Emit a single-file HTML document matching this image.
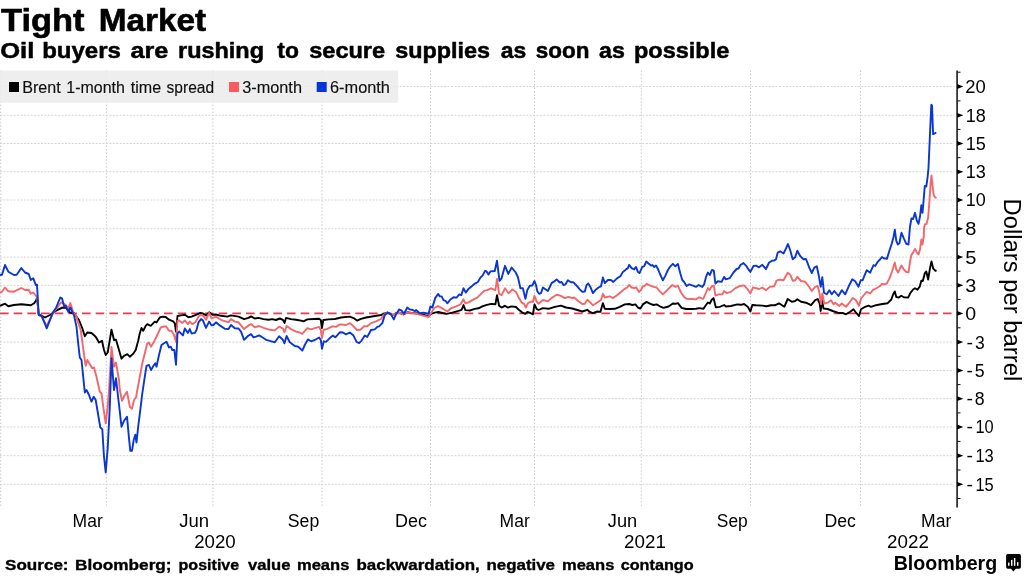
<!DOCTYPE html>
<html><head><meta charset="utf-8"><title>Tight Market</title>
<style>
html,body{margin:0;padding:0;background:#fff;}
body{width:1024px;height:576px;overflow:hidden;font-family:"Liberation Sans",sans-serif;}
svg{display:block;font-family:"Liberation Sans",sans-serif;}
</style></head><body>
<svg width="1024" height="576" viewBox="0 0 1024 576" style="will-change:transform">
<g stroke="#d4d4d4" stroke-width="1" stroke-dasharray="2 1.417" fill="none"><line x1="0.7" y1="70.5" x2="0.7" y2="506" stroke="#cacaca" stroke-dasharray="1.5 1.917"/><line x1="106.4" y1="70.5" x2="106.4" y2="506" stroke="#cacaca" stroke-dasharray="1.5 1.917"/><line x1="212.9" y1="70.5" x2="212.9" y2="506" stroke="#cacaca" stroke-dasharray="1.5 1.917"/><line x1="322" y1="70.5" x2="322" y2="506" stroke="#cacaca" stroke-dasharray="1.5 1.917"/><line x1="430.5" y1="70.5" x2="430.5" y2="506" stroke="#cacaca" stroke-dasharray="1.5 1.917"/><line x1="534.5" y1="70.5" x2="534.5" y2="506" stroke="#cacaca" stroke-dasharray="1.5 1.917"/><line x1="641.3" y1="70.5" x2="641.3" y2="506" stroke="#cacaca" stroke-dasharray="1.5 1.917"/><line x1="750.5" y1="70.5" x2="750.5" y2="506" stroke="#cacaca" stroke-dasharray="1.5 1.917"/><line x1="860.5" y1="70.5" x2="860.5" y2="506" stroke="#cacaca" stroke-dasharray="1.5 1.917"/><line x1="0" y1="86.5" x2="954" y2="86.5"/><line x1="0" y1="115.3" x2="954" y2="115.3"/><line x1="0" y1="143.5" x2="954" y2="143.5"/><line x1="0" y1="171.8" x2="954" y2="171.8"/><line x1="0" y1="200.0" x2="954" y2="200.0"/><line x1="0" y1="228.8" x2="954" y2="228.8"/><line x1="0" y1="257.1" x2="954" y2="257.1"/><line x1="0" y1="285.3" x2="954" y2="285.3"/><line x1="0" y1="342.1" x2="954" y2="342.1"/><line x1="0" y1="370.5" x2="954" y2="370.5"/><line x1="0" y1="398.7" x2="954" y2="398.7"/><line x1="0" y1="427.0" x2="954" y2="427.0"/><line x1="0" y1="455.7" x2="954" y2="455.7"/><line x1="0" y1="484.3" x2="954" y2="484.3"/></g>
<rect x="0" y="70.5" width="398.2" height="32.2" fill="#ececec" fill-opacity="0.88"/>
<rect x="9" y="82" width="10" height="10" fill="#000"/><rect x="229" y="82" width="10" height="10" fill="#fb5a5e"/><rect x="316.7" y="82" width="10" height="10" fill="#0534d8"/>
<line x1="0" y1="313.4" x2="954" y2="313.4" stroke="#e93a52" stroke-width="1.8" stroke-dasharray="8.6 5.067"/>
<path d="M0.0,305.8 L5.0,303.7 L8.3,306.3 L14.0,305.0 L21.3,304.2 L30.8,305.3 L34.2,303.3 L36.3,300.0 L37.0,297.5 L38.7,314.2 L41.7,315.8 L45.0,317.5 L50.0,315.0 L55.8,310.8 L61.7,307.8 L65.8,307.5 L70.0,312.5 L74.0,313.3 L79.0,320.0 L82.3,328.3 L84.8,336.3 L87.3,332.5 L91.5,333.0 L95.7,336.7 L99.0,342.5 L102.0,340.8 L104.0,350.0 L105.7,355.0 L107.7,352.5 L109.8,340.0 L111.5,329.7 L114.0,340.0 L116.0,339.7 L119.0,350.0 L121.5,358.7 L124.0,355.8 L127.3,354.2 L129.8,356.7 L133.2,353.7 L135.7,350.0 L138.2,340.8 L139.8,333.3 L141.5,328.0 L143.2,330.8 L145.7,325.8 L147.3,324.2 L150.7,325.8 L154.8,321.7 L156.5,322.5 L159.8,317.5 L162.3,316.7 L165.7,317.0 L169.0,319.7 L173.2,321.3 L174.8,323.3 L176.0,331.7 L177.5,316.0 L181.0,315.4 L184.8,314.8 L188.5,317.3 L191.6,316.6 L196.0,314.8 L200.4,312.9 L202.9,313.5 L206.0,315.4 L209.1,312.3 L212.3,314.8 L216.0,314.5 L221.0,315.8 L227.3,316.6 L231.0,315.4 L238.5,316.6 L244.1,319.1 L248.5,317.9 L251.0,316.4 L254.8,318.5 L258.5,317.9 L263.5,319.1 L268.5,319.8 L272.3,319.1 L276.0,320.0 L279.8,318.5 L282.9,319.8 L284.5,322.9 L286.0,317.9 L291.0,319.1 L296.0,319.8 L301.0,320.6 L303.5,321.3 L307.3,319.4 L313.5,319.0 L319.1,318.8 L320.8,320.0 L321.9,328.1 L323.3,320.0 L328.5,319.4 L334.8,319.0 L341.0,317.5 L349.8,316.6 L353.5,318.1 L357.0,320.6 L361.0,318.8 L366.0,317.5 L373.5,316.3 L381.0,315.0 L386.0,313.1 L387.3,312.5 L391.0,314.4 L393.5,315.0 L396.0,313.1 L399.8,312.8 L403.5,314.4 L407.3,312.3 L412.3,313.1 L416.0,313.3 L421.0,313.9 L428.5,316.4 L431.0,313.9 L434.8,312.6 L438.5,312.0 L442.3,313.0 L446.6,313.9 L452.3,312.6 L458.5,310.8 L461.6,309.8 L463.5,305.1 L465.4,310.1 L469.8,310.5 L474.8,308.9 L478.5,308.3 L482.3,306.4 L486.0,305.1 L491.0,303.9 L495.4,304.3 L497.0,295.1 L499.1,305.8 L501.6,307.6 L504.8,305.8 L507.9,307.6 L511.6,306.4 L516.0,307.0 L519.1,310.1 L522.3,312.6 L525.4,313.9 L527.3,312.0 L530.4,313.0 L532.9,314.3 L534.5,304.5 L536.6,308.9 L538.5,310.0 L542.9,308.1 L548.5,308.8 L554.8,306.9 L561.0,305.6 L566.0,307.5 L572.3,308.5 L577.3,310.0 L582.3,311.5 L587.3,309.8 L589.8,311.9 L592.9,313.1 L597.3,311.5 L600.4,311.9 L602.9,303.1 L604.8,308.8 L609.8,309.0 L614.8,308.8 L619.8,306.9 L624.8,304.4 L629.1,304.0 L632.3,305.0 L635.4,304.4 L637.9,307.5 L640.4,308.5 L642.9,304.4 L646.6,301.9 L650.4,303.8 L653.5,305.0 L656.6,304.4 L659.8,306.3 L663.5,307.8 L668.5,306.5 L672.9,303.5 L675.4,303.8 L677.9,303.1 L681.6,307.8 L686.0,309.0 L692.3,309.0 L696.0,308.8 L699.1,308.1 L703.5,308.8 L706.0,305.0 L707.9,302.5 L709.8,303.5 L711.6,300.0 L713.5,298.1 L715.8,307.3 L719.8,306.9 L724.1,305.0 L726.0,306.5 L731.0,306.0 L737.3,304.4 L741.0,304.8 L744.1,304.0 L747.9,306.9 L750.4,311.5 L752.3,305.0 L756.0,305.3 L762.3,305.6 L766.6,306.3 L771.0,305.3 L774.8,305.3 L777.9,303.8 L779.3,303.5 L784.3,306.8 L787.7,299.0 L791.8,301.8 L795.2,301.0 L797.3,299.3 L801.0,301.8 L806.0,302.7 L811.0,305.2 L815.2,300.2 L817.7,299.0 L819.7,303.5 L820.7,311.0 L822.0,300.2 L823.5,308.5 L827.7,309.0 L832.7,311.0 L837.7,312.7 L842.7,313.0 L846.0,314.3 L850.2,311.8 L853.5,309.3 L856.0,312.7 L859.0,316.0 L861.0,309.3 L865.2,306.8 L868.5,305.7 L871.0,306.8 L876.0,305.2 L881.0,304.3 L887.5,303.3 L891.3,299.5 L893.1,294.5 L894.8,291.4 L896.3,297.0 L898.8,297.6 L901.3,295.8 L903.8,297.3 L908.1,297.6 L910.6,292.6 L913.1,289.5 L915.0,288.3 L917.5,289.8 L919.8,286.4 L921.3,280.8 L922.8,281.0 L924.8,273.3 L926.3,271.4 L928.1,279.5 L930.0,268.3 L931.5,261.4 L933.1,268.3 L935.0,270.5 L936.5,271.0" fill="none" stroke="#000" stroke-width="1.9" stroke-linejoin="round" stroke-linecap="butt"/>
<path d="M0.0,292.5 L2.0,291.7 L5.0,287.5 L8.3,291.3 L14.0,291.7 L21.3,288.0 L25.0,290.0 L28.7,289.7 L30.8,293.7 L33.3,292.5 L35.8,295.8 L37.0,296.7 L38.7,315.0 L41.7,316.7 L46.7,325.8 L53.3,312.5 L57.5,307.5 L60.8,302.5 L63.3,303.3 L65.8,305.0 L68.3,308.3 L70.3,303.0 L73.3,312.5 L76.7,316.7 L77.3,320.0 L80.7,330.0 L83.2,348.3 L84.8,360.0 L85.7,365.8 L87.3,360.0 L89.8,364.2 L92.3,368.3 L94.0,367.5 L96.5,376.7 L99.8,391.7 L101.5,393.3 L103.7,410.0 L105.7,423.3 L107.7,406.7 L109.0,390.0 L111.5,347.0 L114.0,366.7 L116.0,362.5 L119.0,380.0 L119.8,390.0 L122.0,400.8 L124.8,395.0 L127.0,391.7 L129.8,406.7 L132.0,408.7 L134.0,400.0 L136.0,397.5 L137.3,390.0 L139.8,376.7 L142.3,363.3 L144.8,353.3 L147.3,343.3 L149.0,342.5 L151.0,346.7 L154.0,341.7 L157.3,335.0 L160.7,327.5 L163.2,326.7 L166.0,326.3 L169.0,330.8 L171.5,330.8 L174.0,335.0 L176.0,341.7 L177.5,321.0 L179.1,320.4 L182.3,322.9 L184.8,320.4 L187.9,324.1 L189.8,321.6 L192.3,324.1 L195.4,322.3 L198.5,316.6 L201.0,314.8 L203.5,316.0 L206.0,319.8 L209.1,312.9 L211.6,318.5 L216.0,316.6 L221.0,319.8 L228.5,322.3 L231.0,319.1 L234.8,321.6 L238.5,322.3 L244.1,329.1 L248.5,325.4 L251.0,324.1 L254.8,327.3 L259.1,326.0 L263.5,327.9 L269.8,329.8 L274.8,330.4 L279.1,326.6 L282.9,328.5 L284.5,332.3 L286.6,326.0 L291.0,329.1 L296.0,331.6 L299.8,332.5 L302.3,333.8 L307.3,328.1 L311.0,329.4 L314.8,328.1 L319.1,326.9 L320.8,330.0 L322.0,338.1 L323.5,330.0 L327.3,328.8 L332.3,326.3 L336.0,326.9 L339.8,324.4 L346.0,325.0 L349.8,323.1 L353.5,326.3 L357.0,330.0 L360.4,329.8 L364.1,326.3 L367.3,326.3 L371.0,323.1 L376.0,321.3 L381.0,319.0 L383.5,315.0 L387.3,312.5 L391.0,314.4 L393.5,315.0 L396.0,313.1 L399.8,312.8 L403.5,314.4 L407.3,312.3 L412.3,313.1 L416.0,313.3 L421.0,315.1 L428.5,317.0 L431.0,313.3 L434.1,308.3 L437.9,306.0 L441.0,307.6 L444.1,309.5 L447.3,311.4 L451.0,308.3 L456.0,306.4 L460.4,304.5 L463.5,299.3 L465.4,303.3 L467.9,302.6 L472.3,300.1 L477.3,297.6 L481.0,293.9 L484.1,290.8 L487.3,290.1 L491.0,288.3 L495.4,290.1 L497.0,278.9 L499.1,293.9 L501.6,295.1 L505.0,288.3 L508.5,293.3 L512.3,289.5 L516.0,292.0 L519.1,298.3 L521.6,302.6 L524.1,303.9 L525.8,307.6 L527.9,303.3 L531.0,301.4 L532.9,302.0 L534.5,295.8 L536.6,301.4 L538.5,303.8 L542.9,300.0 L547.9,301.3 L552.3,297.5 L556.6,294.8 L560.4,295.6 L564.8,298.1 L568.5,296.9 L572.3,298.1 L574.1,297.5 L578.5,301.3 L582.3,304.0 L584.8,303.8 L587.3,299.8 L589.8,301.9 L592.9,305.3 L597.3,302.5 L601.0,300.0 L602.9,293.8 L604.8,297.5 L609.8,296.3 L612.9,298.1 L617.3,295.0 L621.0,291.9 L624.8,288.8 L627.3,287.5 L629.1,284.8 L631.6,287.5 L634.1,288.1 L636.0,287.3 L639.1,291.9 L641.0,290.0 L642.9,286.3 L644.1,286.3 L646.6,283.8 L650.4,285.6 L653.5,286.9 L656.6,287.5 L659.8,291.3 L662.9,294.4 L667.3,290.0 L672.3,285.0 L675.4,286.9 L677.9,285.6 L681.0,292.5 L684.1,296.9 L686.6,298.8 L692.3,299.0 L696.0,299.4 L699.1,297.3 L703.3,298.8 L706.0,292.5 L707.9,288.1 L709.5,290.0 L711.6,286.5 L713.8,285.6 L715.4,295.6 L718.5,294.4 L722.3,294.4 L724.1,291.0 L726.6,293.1 L731.0,291.9 L735.4,288.1 L739.1,286.3 L744.1,285.4 L747.3,288.8 L750.4,293.5 L752.9,287.5 L756.0,288.1 L759.1,289.0 L762.3,287.5 L766.0,290.3 L769.8,286.9 L774.1,286.3 L776.6,280.6 L779.3,279.7 L783.5,280.2 L787.7,272.7 L790.2,274.7 L792.7,280.7 L795.2,280.2 L797.3,276.8 L801.0,281.0 L805.2,281.8 L808.5,286.0 L811.8,291.0 L815.2,286.8 L817.7,286.0 L819.7,294.3 L821.0,304.3 L822.3,293.5 L824.3,303.5 L827.7,302.7 L831.0,300.2 L833.5,304.3 L835.2,302.7 L839.3,306.0 L841.8,303.5 L846.0,306.8 L849.3,302.7 L852.7,298.0 L856.0,300.2 L859.0,305.7 L861.0,298.5 L865.2,293.5 L866.8,291.8 L870.2,293.5 L872.7,290.2 L876.0,288.5 L880.2,286.0 L881.9,283.9 L883.8,284.5 L886.9,283.3 L889.4,278.3 L891.9,272.0 L893.5,266.4 L894.8,262.6 L896.3,269.5 L898.1,272.6 L900.0,268.3 L901.5,265.5 L903.8,269.5 L906.3,272.0 L908.5,272.3 L910.0,262.0 L911.3,255.1 L913.1,252.6 L915.0,248.9 L916.9,252.6 L918.5,254.5 L920.0,249.5 L921.3,239.5 L922.5,244.5 L923.8,235.8 L924.0,227.8 L925.0,224.3 L926.5,224.0 L928.1,217.8 L929.4,201.5 L930.6,182.8 L931.5,175.5 L932.5,185.3 L933.8,195.3 L935.0,197.1 L936.5,198.4" fill="none" stroke="#f2676b" stroke-width="1.9" stroke-linejoin="round" stroke-linecap="butt"/>
<path d="M0.0,275.0 L2.0,274.7 L5.0,265.0 L8.3,271.7 L14.0,275.0 L16.7,274.7 L21.3,268.0 L25.0,272.5 L28.7,274.0 L30.8,280.0 L33.3,278.3 L35.8,285.0 L37.0,284.7 L38.7,315.0 L41.7,315.8 L46.7,328.3 L53.3,311.7 L55.8,308.3 L60.3,297.5 L62.0,298.3 L64.2,306.7 L65.8,305.8 L68.3,312.0 L70.3,307.5 L73.3,314.0 L74.0,315.0 L76.5,326.7 L78.2,343.3 L79.8,357.5 L81.5,360.0 L83.2,376.7 L84.8,392.5 L86.5,390.0 L89.0,395.0 L91.5,401.7 L93.7,396.7 L95.7,400.0 L98.2,415.0 L100.3,427.5 L102.3,429.2 L104.0,456.7 L105.7,472.5 L107.7,448.3 L109.8,406.7 L111.5,358.3 L114.0,390.0 L116.0,378.3 L117.3,390.0 L119.8,411.7 L121.5,426.7 L124.0,420.8 L127.0,416.7 L129.0,438.3 L130.3,450.8 L132.0,450.8 L133.7,440.0 L135.3,434.7 L136.5,442.5 L138.2,426.7 L140.7,406.7 L142.3,393.3 L144.8,376.7 L146.5,365.8 L149.0,365.0 L151.0,370.0 L154.0,365.0 L155.3,363.3 L156.5,366.7 L159.0,355.0 L161.5,345.0 L164.0,343.3 L166.5,341.7 L169.0,347.5 L170.7,346.7 L172.3,350.0 L174.3,350.0 L176.0,364.7 L177.5,333.5 L179.1,331.6 L182.9,335.4 L184.8,328.5 L187.9,332.9 L189.8,329.1 L191.6,333.5 L194.8,332.9 L196.6,329.8 L198.5,322.3 L201.0,319.1 L202.9,320.4 L206.0,327.9 L209.1,321.6 L211.6,325.4 L213.5,325.0 L216.0,322.3 L219.8,325.4 L224.8,328.8 L228.5,329.1 L231.0,325.0 L234.8,328.3 L238.5,328.5 L241.0,331.6 L244.1,339.8 L247.9,336.0 L251.0,334.1 L253.5,337.3 L256.0,336.6 L259.1,335.4 L262.3,337.3 L266.0,339.8 L269.8,340.8 L274.8,342.3 L279.1,336.3 L282.9,339.8 L284.5,343.3 L286.6,336.0 L289.8,342.3 L294.8,346.0 L297.9,346.6 L299.1,347.5 L302.3,350.6 L304.8,345.0 L307.9,339.4 L311.0,341.3 L314.8,340.0 L319.1,337.5 L320.8,340.0 L322.0,348.8 L323.8,341.3 L326.0,341.9 L329.8,338.1 L332.9,335.6 L335.4,337.3 L339.8,332.3 L342.9,332.5 L346.0,334.4 L349.8,332.5 L353.5,335.6 L356.6,341.9 L359.1,343.1 L361.6,340.6 L364.8,335.6 L367.3,336.9 L371.0,330.0 L374.8,329.4 L377.3,326.9 L379.1,326.3 L382.3,323.1 L384.8,315.0 L387.9,312.5 L391.0,314.4 L393.8,319.4 L396.0,314.4 L399.1,309.4 L401.6,310.6 L404.1,313.8 L407.3,307.5 L409.8,309.4 L412.9,310.0 L414.8,311.3 L416.0,310.1 L419.8,313.3 L423.5,312.6 L428.5,313.9 L430.4,306.4 L432.3,307.6 L435.4,297.6 L438.3,293.9 L439.8,296.4 L441.6,296.4 L443.5,300.1 L445.4,300.8 L447.3,303.3 L450.4,299.5 L453.5,297.3 L456.6,297.6 L459.1,294.5 L461.3,295.1 L463.5,288.3 L465.8,292.6 L468.5,288.9 L472.3,285.8 L475.4,283.3 L477.9,282.0 L480.4,277.6 L482.9,275.1 L485.0,270.8 L486.6,271.4 L488.5,274.5 L490.4,271.4 L494.8,271.0 L497.0,260.8 L499.5,280.8 L501.6,278.3 L505.0,265.8 L508.3,273.9 L511.6,267.6 L515.4,272.0 L517.9,277.0 L520.4,288.3 L522.9,288.3 L525.4,298.9 L527.3,290.1 L529.8,285.8 L532.3,285.5 L534.5,281.0 L536.0,285.0 L537.3,291.3 L539.1,293.8 L541.0,293.1 L542.9,287.5 L547.9,291.0 L551.6,283.1 L553.5,281.9 L556.6,279.4 L559.8,282.5 L561.6,281.9 L563.5,285.0 L565.4,284.4 L567.9,280.3 L571.0,282.3 L573.5,282.3 L576.6,285.6 L579.8,289.4 L582.3,291.9 L584.8,291.5 L586.6,285.0 L588.3,283.5 L590.4,286.9 L592.9,293.1 L596.0,289.4 L598.5,287.5 L601.0,286.3 L602.9,277.5 L604.8,283.1 L607.9,280.0 L611.0,280.0 L613.3,281.9 L617.3,278.1 L620.4,276.3 L622.9,271.9 L626.0,269.4 L627.9,268.1 L629.1,264.8 L631.6,268.1 L634.1,269.4 L636.0,266.9 L637.9,271.9 L639.5,273.1 L642.3,266.9 L644.1,266.3 L646.3,261.5 L648.5,263.5 L651.0,265.6 L652.3,265.0 L654.1,266.9 L656.0,265.6 L657.9,268.8 L660.4,275.0 L662.9,280.3 L665.4,275.6 L667.9,270.0 L670.4,266.3 L672.9,263.8 L675.4,266.3 L677.9,264.0 L680.4,273.8 L682.3,280.0 L684.1,281.9 L686.6,286.0 L689.1,284.4 L692.9,285.6 L696.0,286.9 L698.5,285.0 L702.3,286.9 L704.1,284.4 L706.0,276.9 L707.9,272.5 L709.8,275.0 L712.0,270.0 L713.8,270.6 L715.4,283.5 L717.9,281.3 L721.6,281.9 L724.1,276.9 L725.8,279.4 L729.8,278.1 L733.5,272.5 L736.6,269.0 L738.5,268.5 L740.4,265.0 L743.5,263.1 L746.0,265.6 L748.5,269.4 L750.4,271.9 L753.5,266.0 L756.0,265.6 L759.1,267.3 L762.3,264.8 L766.0,269.0 L769.1,262.5 L772.3,260.6 L774.1,260.6 L776.0,259.3 L777.7,252.7 L780.2,251.3 L783.5,253.5 L786.0,248.5 L788.0,244.0 L790.2,250.2 L792.7,259.3 L795.2,257.3 L797.3,250.7 L800.2,256.0 L803.5,259.3 L806.0,259.0 L809.3,267.7 L811.8,273.0 L814.3,267.7 L816.8,266.3 L819.0,276.8 L820.7,286.8 L822.3,277.3 L824.0,292.7 L826.8,294.3 L829.3,290.2 L831.8,294.3 L834.3,291.0 L838.5,296.0 L841.8,290.2 L845.2,294.3 L848.5,286.8 L852.3,279.3 L855.2,281.3 L858.5,286.8 L860.7,280.2 L862.7,280.2 L864.3,276.0 L866.8,270.2 L870.2,272.7 L873.5,265.2 L875.2,266.0 L877.7,261.8 L880.0,259.5 L881.9,257.0 L883.8,258.3 L886.9,258.9 L889.4,250.8 L891.9,243.3 L893.5,237.0 L894.8,229.6 L896.3,240.8 L897.8,244.5 L899.4,243.3 L900.6,237.0 L901.5,232.8 L903.8,238.3 L906.3,243.9 L908.5,244.5 L910.0,226.5 L911.5,218.4 L913.1,219.0 L915.0,212.8 L916.9,220.9 L918.5,223.8 L920.0,216.5 L921.3,205.3 L922.5,212.8 L923.5,201.5 L924.8,185.9 L926.3,186.5 L927.5,177.8 L928.5,168.0 L930.0,133.5 L931.3,104.8 L932.0,105.4 L933.1,134.1 L934.8,133.3 L936.3,132.5" fill="none" stroke="#0a36d2" stroke-width="1.9" stroke-linejoin="round" stroke-linecap="butt"/>
<line x1="957.1" y1="70.5" x2="957.1" y2="507.5" stroke="#2a2a2a" stroke-width="1.7"/>
<path d="M957.1,84.0 L963.3000000000001,86.5 L957.1,88.9Z" fill="#000"/><path d="M957.1,112.9 L963.3000000000001,115.3 L957.1,117.7Z" fill="#000"/><path d="M957.1,141.1 L963.3000000000001,143.5 L957.1,145.9Z" fill="#000"/><path d="M957.1,169.4 L963.3000000000001,171.8 L957.1,174.2Z" fill="#000"/><path d="M957.1,197.6 L963.3000000000001,200.0 L957.1,202.4Z" fill="#000"/><path d="M957.1,226.4 L963.3000000000001,228.8 L957.1,231.2Z" fill="#000"/><path d="M957.1,254.7 L963.3000000000001,257.1 L957.1,259.5Z" fill="#000"/><path d="M957.1,282.9 L963.3000000000001,285.3 L957.1,287.7Z" fill="#000"/><path d="M957.1,311.0 L963.3000000000001,313.4 L957.1,315.8Z" fill="#000"/><path d="M957.1,339.7 L963.3000000000001,342.1 L957.1,344.5Z" fill="#000"/><path d="M957.1,368.1 L963.3000000000001,370.5 L957.1,372.9Z" fill="#000"/><path d="M957.1,396.3 L963.3000000000001,398.7 L957.1,401.1Z" fill="#000"/><path d="M957.1,424.6 L963.3000000000001,427.0 L957.1,429.4Z" fill="#000"/><path d="M957.1,453.3 L963.3000000000001,455.7 L957.1,458.1Z" fill="#000"/><path d="M957.1,481.9 L963.3000000000001,484.3 L957.1,486.7Z" fill="#000"/><line x1="957.1" y1="498.5" x2="960.5" y2="498.5" stroke="#111" stroke-width="1"/><line x1="957.1" y1="470.0" x2="960.5" y2="470.0" stroke="#111" stroke-width="1"/><line x1="957.1" y1="441.4" x2="960.5" y2="441.4" stroke="#111" stroke-width="1"/><line x1="957.1" y1="412.9" x2="960.5" y2="412.9" stroke="#111" stroke-width="1"/><line x1="957.1" y1="384.6" x2="960.5" y2="384.6" stroke="#111" stroke-width="1"/><line x1="957.1" y1="356.3" x2="960.5" y2="356.3" stroke="#111" stroke-width="1"/><line x1="957.1" y1="327.8" x2="960.5" y2="327.8" stroke="#111" stroke-width="1"/><line x1="957.1" y1="299.4" x2="960.5" y2="299.4" stroke="#111" stroke-width="1"/><line x1="957.1" y1="271.2" x2="960.5" y2="271.2" stroke="#111" stroke-width="1"/><line x1="957.1" y1="243.0" x2="960.5" y2="243.0" stroke="#111" stroke-width="1"/><line x1="957.1" y1="214.4" x2="960.5" y2="214.4" stroke="#111" stroke-width="1"/><line x1="957.1" y1="185.9" x2="960.5" y2="185.9" stroke="#111" stroke-width="1"/><line x1="957.1" y1="157.7" x2="960.5" y2="157.7" stroke="#111" stroke-width="1"/><line x1="957.1" y1="129.4" x2="960.5" y2="129.4" stroke="#111" stroke-width="1"/><line x1="957.1" y1="100.9" x2="960.5" y2="100.9" stroke="#111" stroke-width="1"/><line x1="957.1" y1="72.2" x2="960.5" y2="72.2" stroke="#111" stroke-width="1"/>
<text x="1.10" y="31.20" font-size="32" font-weight="bold" textLength="83.47" lengthAdjust="spacingAndGlyphs" fill="#000" stroke="#000" stroke-width="0.6" stroke-linejoin="round">Tight</text>
<text x="98.72" y="31.20" font-size="32" font-weight="bold" textLength="107.45" lengthAdjust="spacingAndGlyphs" fill="#000" stroke="#000" stroke-width="0.6" stroke-linejoin="round">Market</text>
<text x="0.21" y="58.10" font-size="22" font-weight="bold" textLength="34.05" lengthAdjust="spacingAndGlyphs" fill="#000" stroke="#000" stroke-width="0.5" stroke-linejoin="round">Oil</text>
<text x="42.22" y="58.10" font-size="22" font-weight="bold" textLength="78.69" lengthAdjust="spacingAndGlyphs" fill="#000" stroke="#000" stroke-width="0.5" stroke-linejoin="round">buyers</text>
<text x="130.56" y="58.10" font-size="22" font-weight="bold" textLength="37.78" lengthAdjust="spacingAndGlyphs" fill="#000" stroke="#000" stroke-width="0.5" stroke-linejoin="round">are</text>
<text x="178.01" y="58.10" font-size="22" font-weight="bold" textLength="86.03" lengthAdjust="spacingAndGlyphs" fill="#000" stroke="#000" stroke-width="0.5" stroke-linejoin="round">rushing</text>
<text x="277.29" y="58.10" font-size="22" font-weight="bold" textLength="21.58" lengthAdjust="spacingAndGlyphs" fill="#000" stroke="#000" stroke-width="0.5" stroke-linejoin="round">to</text>
<text x="309.25" y="58.10" font-size="22" font-weight="bold" textLength="75.78" lengthAdjust="spacingAndGlyphs" fill="#000" stroke="#000" stroke-width="0.5" stroke-linejoin="round">secure</text>
<text x="395.26" y="58.10" font-size="22" font-weight="bold" textLength="94.88" lengthAdjust="spacingAndGlyphs" fill="#000" stroke="#000" stroke-width="0.5" stroke-linejoin="round">supplies</text>
<text x="500.87" y="58.10" font-size="22" font-weight="bold" textLength="25.50" lengthAdjust="spacingAndGlyphs" fill="#000" stroke="#000" stroke-width="0.5" stroke-linejoin="round">as</text>
<text x="535.79" y="58.10" font-size="22" font-weight="bold" textLength="53.58" lengthAdjust="spacingAndGlyphs" fill="#000" stroke="#000" stroke-width="0.5" stroke-linejoin="round">soon</text>
<text x="599.12" y="58.10" font-size="22" font-weight="bold" textLength="25.76" lengthAdjust="spacingAndGlyphs" fill="#000" stroke="#000" stroke-width="0.5" stroke-linejoin="round">as</text>
<text x="634.01" y="58.10" font-size="22" font-weight="bold" textLength="95.28" lengthAdjust="spacingAndGlyphs" fill="#000" stroke="#000" stroke-width="0.5" stroke-linejoin="round">possible</text>
<text x="22.17" y="92.90" font-size="15.7" font-weight="normal" textLength="38.49" lengthAdjust="spacingAndGlyphs" fill="#111" stroke="#111" stroke-width="0.15" stroke-linejoin="round">Brent</text>
<text x="66.38" y="92.90" font-size="15.7" font-weight="normal" textLength="58.57" lengthAdjust="spacingAndGlyphs" fill="#111" stroke="#111" stroke-width="0.15" stroke-linejoin="round">1-month</text>
<text x="130.80" y="92.90" font-size="15.7" font-weight="normal" textLength="30.35" lengthAdjust="spacingAndGlyphs" fill="#111" stroke="#111" stroke-width="0.15" stroke-linejoin="round">time</text>
<text x="166.60" y="92.90" font-size="15.7" font-weight="normal" textLength="47.52" lengthAdjust="spacingAndGlyphs" fill="#111" stroke="#111" stroke-width="0.15" stroke-linejoin="round">spread</text>
<text x="242.18" y="92.90" font-size="15.7" font-weight="normal" textLength="59.79" lengthAdjust="spacingAndGlyphs" fill="#111" stroke="#111" stroke-width="0.15" stroke-linejoin="round">3-month</text>
<text x="329.97" y="92.90" font-size="15.7" font-weight="normal" textLength="60.00" lengthAdjust="spacingAndGlyphs" fill="#111" stroke="#111" stroke-width="0.15" stroke-linejoin="round">6-month</text>
<text x="965.16" y="92.85" font-size="17.5" font-weight="normal" textLength="20.51" lengthAdjust="spacingAndGlyphs" fill="#000">20</text>
<text x="965.66" y="121.70" font-size="17.5" font-weight="normal" textLength="20.10" lengthAdjust="spacingAndGlyphs" fill="#000">18</text>
<text x="965.66" y="149.90" font-size="17.5" font-weight="normal" textLength="20.10" lengthAdjust="spacingAndGlyphs" fill="#000">15</text>
<text x="965.66" y="178.20" font-size="17.5" font-weight="normal" textLength="20.10" lengthAdjust="spacingAndGlyphs" fill="#000">13</text>
<text x="965.67" y="206.40" font-size="17.5" font-weight="normal" textLength="19.98" lengthAdjust="spacingAndGlyphs" fill="#000">10</text>
<text x="965.20" y="235.20" font-size="17.5" font-weight="normal" textLength="11.14" lengthAdjust="spacingAndGlyphs" fill="#000">8</text>
<text x="965.20" y="263.50" font-size="17.5" font-weight="normal" textLength="11.14" lengthAdjust="spacingAndGlyphs" fill="#000">5</text>
<text x="965.32" y="291.70" font-size="17.5" font-weight="normal" textLength="11.01" lengthAdjust="spacingAndGlyphs" fill="#000">3</text>
<text x="965.33" y="319.80" font-size="17.5" font-weight="normal" textLength="10.88" lengthAdjust="spacingAndGlyphs" fill="#000">0</text>
<text x="966.52" y="348.50" font-size="17.5" font-weight="normal" textLength="6.49" lengthAdjust="spacingAndGlyphs" fill="#000">-</text>
<text x="975.00" y="348.50" font-size="17.5" font-weight="normal" textLength="9.73" lengthAdjust="spacingAndGlyphs" fill="#000">3</text>
<text x="966.52" y="376.90" font-size="17.5" font-weight="normal" textLength="6.49" lengthAdjust="spacingAndGlyphs" fill="#000">-</text>
<text x="974.89" y="376.90" font-size="17.5" font-weight="normal" textLength="9.85" lengthAdjust="spacingAndGlyphs" fill="#000">5</text>
<text x="966.52" y="405.10" font-size="17.5" font-weight="normal" textLength="6.49" lengthAdjust="spacingAndGlyphs" fill="#000">-</text>
<text x="974.89" y="405.10" font-size="17.5" font-weight="normal" textLength="9.85" lengthAdjust="spacingAndGlyphs" fill="#000">8</text>
<text x="966.52" y="433.40" font-size="17.5" font-weight="normal" textLength="6.49" lengthAdjust="spacingAndGlyphs" fill="#000">-</text>
<text x="975.38" y="433.40" font-size="17.5" font-weight="normal" textLength="18.21" lengthAdjust="spacingAndGlyphs" fill="#000">10</text>
<text x="966.52" y="462.10" font-size="17.5" font-weight="normal" textLength="6.49" lengthAdjust="spacingAndGlyphs" fill="#000">-</text>
<text x="975.38" y="462.10" font-size="17.5" font-weight="normal" textLength="18.31" lengthAdjust="spacingAndGlyphs" fill="#000">13</text>
<text x="966.52" y="490.70" font-size="17.5" font-weight="normal" textLength="6.49" lengthAdjust="spacingAndGlyphs" fill="#000">-</text>
<text x="975.38" y="490.70" font-size="17.5" font-weight="normal" textLength="18.31" lengthAdjust="spacingAndGlyphs" fill="#000">15</text>
<text x="72.60" y="526.75" font-size="17.5" font-weight="normal" textLength="30.13" lengthAdjust="spacingAndGlyphs" fill="#000">Mar</text>
<text x="179.29" y="526.75" font-size="17.5" font-weight="normal" textLength="29.91" lengthAdjust="spacingAndGlyphs" fill="#000">Jun</text>
<text x="287.79" y="526.75" font-size="17.5" font-weight="normal" textLength="31.45" lengthAdjust="spacingAndGlyphs" fill="#000">Sep</text>
<text x="395.07" y="526.75" font-size="17.5" font-weight="normal" textLength="31.90" lengthAdjust="spacingAndGlyphs" fill="#000">Dec</text>
<text x="499.60" y="526.75" font-size="17.5" font-weight="normal" textLength="30.13" lengthAdjust="spacingAndGlyphs" fill="#000">Mar</text>
<text x="607.79" y="526.75" font-size="17.5" font-weight="normal" textLength="29.39" lengthAdjust="spacingAndGlyphs" fill="#000">Jun</text>
<text x="716.80" y="526.75" font-size="17.5" font-weight="normal" textLength="30.92" lengthAdjust="spacingAndGlyphs" fill="#000">Sep</text>
<text x="824.59" y="526.75" font-size="17.5" font-weight="normal" textLength="31.36" lengthAdjust="spacingAndGlyphs" fill="#000">Dec</text>
<text x="921.10" y="526.75" font-size="17.5" font-weight="normal" textLength="30.13" lengthAdjust="spacingAndGlyphs" fill="#000">Mar</text>
<text x="194.15" y="548.00" font-size="17.5" font-weight="normal" textLength="41.53" lengthAdjust="spacingAndGlyphs" fill="#000">2020</text>
<text x="624.14" y="548.00" font-size="17.5" font-weight="normal" textLength="41.75" lengthAdjust="spacingAndGlyphs" fill="#000">2021</text>
<text x="887.14" y="548.00" font-size="17.5" font-weight="normal" textLength="41.75" lengthAdjust="spacingAndGlyphs" fill="#000">2022</text>
<text x="5.04" y="570.00" font-size="15" font-weight="bold" textLength="63.54" lengthAdjust="spacingAndGlyphs" fill="#000" stroke="#000" stroke-width="0.35" stroke-linejoin="round">Source:</text>
<text x="75.10" y="570.00" font-size="15" font-weight="bold" textLength="96.50" lengthAdjust="spacingAndGlyphs" fill="#000" stroke="#000" stroke-width="0.35" stroke-linejoin="round">Bloomberg;</text>
<text x="178.54" y="570.00" font-size="15" font-weight="bold" textLength="60.69" lengthAdjust="spacingAndGlyphs" fill="#000" stroke="#000" stroke-width="0.35" stroke-linejoin="round">positive</text>
<text x="248.00" y="570.00" font-size="15" font-weight="bold" textLength="42.49" lengthAdjust="spacingAndGlyphs" fill="#000" stroke="#000" stroke-width="0.35" stroke-linejoin="round">value</text>
<text x="297.01" y="570.00" font-size="15" font-weight="bold" textLength="52.34" lengthAdjust="spacingAndGlyphs" fill="#000" stroke="#000" stroke-width="0.35" stroke-linejoin="round">means</text>
<text x="356.48" y="570.00" font-size="15" font-weight="bold" textLength="123.36" lengthAdjust="spacingAndGlyphs" fill="#000" stroke="#000" stroke-width="0.35" stroke-linejoin="round">backwardation,</text>
<text x="486.49" y="570.00" font-size="15" font-weight="bold" textLength="68.51" lengthAdjust="spacingAndGlyphs" fill="#000" stroke="#000" stroke-width="0.35" stroke-linejoin="round">negative</text>
<text x="562.01" y="570.00" font-size="15" font-weight="bold" textLength="52.34" lengthAdjust="spacingAndGlyphs" fill="#000" stroke="#000" stroke-width="0.35" stroke-linejoin="round">means</text>
<text x="620.71" y="570.00" font-size="15" font-weight="bold" textLength="72.90" lengthAdjust="spacingAndGlyphs" fill="#000" stroke="#000" stroke-width="0.35" stroke-linejoin="round">contango</text>
<text x="893.69" y="569.50" font-size="21" font-weight="bold" textLength="103.55" lengthAdjust="spacingAndGlyphs" fill="#000">Bloomberg</text>
<text transform="translate(1003.6,198.5) rotate(90)" font-size="23.5" textLength="182.8" lengthAdjust="spacingAndGlyphs">Dollars per barrel</text>
<g><path d="M1007.8,554.1 h11.4 a1.7,1.7 0 0 1 1.7,1.7 v11.2 a1.7,1.7 0 0 1 -1.7,1.7 h-3.4 l-2.4,2.7 l-2.4,-2.7 h-3.2 a1.7,1.7 0 0 1 -1.7,-1.7 v-11.2 a1.7,1.7 0 0 1 1.7,-1.7z" fill="#000"/><g fill="#fff"><rect x="1008.05" y="562.6" width="1.45" height="3.2"/><rect x="1011" y="559.9" width="1.45" height="5.9"/><rect x="1013.9" y="558" width="1.45" height="7.8"/><rect x="1017" y="562.1" width="1.4" height="3.7"/></g></g>
</svg>
</body></html>
